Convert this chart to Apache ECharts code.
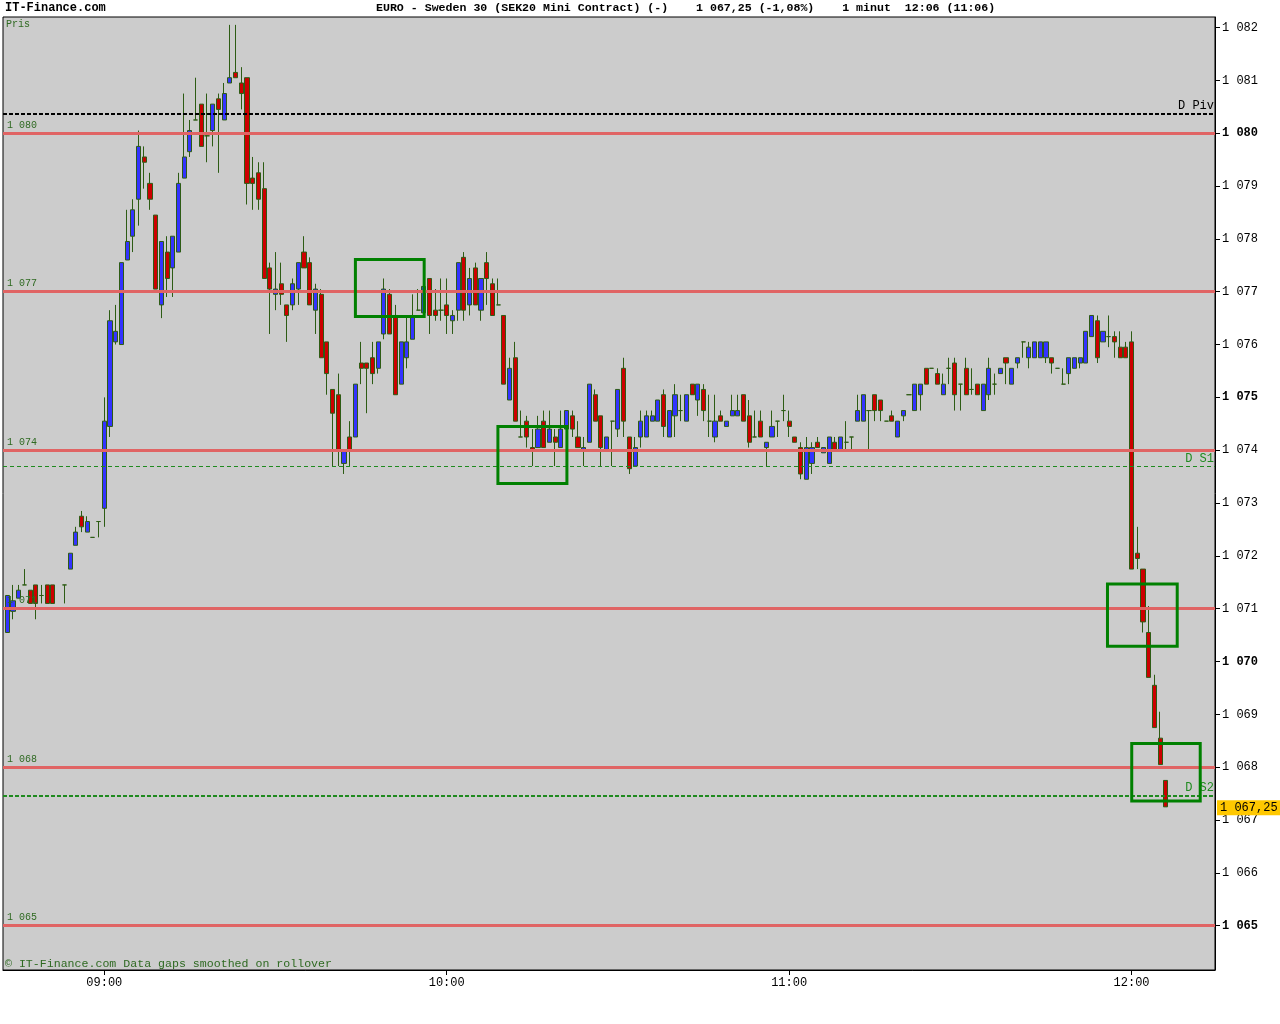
<!DOCTYPE html>
<html><head><meta charset="utf-8">
<script src="https://cdn.jsdelivr.net/npm/echarts@6/dist/echarts.min.js"></script>
<style>html,body{margin:0;padding:0;background:#fff;}#c{width:1280px;height:1024px;}</style>
</head><body><div id="c"></div>
<script>
const times = [
"08:43","08:44","08:45","08:46","08:47","08:48","08:49","08:50","08:51","08:53",
"08:54","08:55","08:56","08:57","08:58","08:59",
"09:00","09:01","09:02","09:03","09:04","09:05","09:06","09:07","09:08","09:09",
"09:10","09:11","09:12","09:13","09:14","09:15","09:16","09:17","09:18","09:19",
"09:20","09:21","09:22","09:23","09:24","09:25","09:26","09:27","09:28","09:29",
"09:30","09:31","09:32","09:33","09:34","09:35","09:36","09:37","09:38","09:39",
"09:40","09:41","09:42","09:43","09:44","09:45","09:46","09:47","09:48","09:49",
"09:50","09:51","09:52","09:53","09:54","09:55","09:56","09:57","09:58","09:59",
"10:00","10:01","10:02","10:03","10:04","10:05","10:06","10:07","10:08","10:09",
"10:10","10:11","10:12","10:13","10:14","10:15","10:16","10:17","10:18","10:19",
"10:20","10:21","10:22","10:23","10:24","10:25","10:26","10:27","10:28","10:29",
"10:30","10:31","10:32","10:33","10:34","10:35","10:36","10:37","10:38","10:39",
"10:40","10:41","10:42","10:43","10:44","10:45","10:46","10:47","10:48","10:49",
"10:50","10:51","10:52","10:53","10:54","10:55","10:56","10:57","10:58","10:59",
"11:00","11:01","11:02","11:03","11:04","11:05","11:06","11:07","11:08","11:09",
"11:10","11:11","11:12","11:13","11:14","11:15","11:16","11:17","11:18","11:19",
"11:20","11:21","11:22","11:23","11:24","11:25","11:26","11:27","11:28","11:29",
"11:30","11:31","11:32","11:33","11:34","11:35","11:36","11:37","11:38","11:39",
"11:40","11:41","11:42","11:43","11:44","11:45","11:46","11:47","11:48","11:49",
"11:50","11:51","11:52","11:53","11:54","11:55","11:56","11:57","11:58","11:59",
"12:00","12:01","12:02","12:03","12:04","12:05","12:06"];

const opens = [
1070.55,1070.95,1071.20,1071.45,1071.35,1071.45,1071.25,1071.45,1071.45,1071.45,
1071.75,1072.20,1072.75,1072.45,1072.35,1072.65,
1072.90,1074.45,1076.05,1076.00,1077.60,1078.05,1078.75,1079.55,1079.05,1078.45,
1076.75,1077.75,1077.45,1077.75,1079.15,1079.65,1080.25,1080.55,1079.95,1080.05,
1080.65,1080.25,1080.95,1081.15,1080.95,1081.05,1079.15,1079.25,1078.95,1077.45,
1076.95,1077.15,1076.75,1076.75,1077.05,1077.75,1077.55,1076.65,1076.95,1076.05,
1075.15,1075.05,1073.75,1074.25,1074.25,1075.65,1075.65,1075.75,1075.55,1076.20,
1076.95,1076.55,1075.25,1075.75,1076.10,1076.65,1076.60,1077.25,1076.65,1076.65,
1076.75,1076.45,1076.65,1077.65,1076.75,1077.45,1076.65,1077.55,1077.15,1076.75,
1076.55,1074.95,1075.75,1074.25,1074.55,1074.05,1074.05,1074.55,1074.15,1074.25,
1074.05,1074.40,1074.65,1074.25,1074.00,1074.15,1075.05,1074.65,1074.00,1074.55,
1074.40,1075.55,1074.25,1073.70,1074.25,1074.25,1074.55,1074.55,1075.05,1074.25,
1074.65,1074.75,1074.55,1075.25,1074.95,1075.15,1074.55,1074.25,1074.65,1074.45,
1074.65,1074.65,1075.05,1074.65,1074.25,1074.55,1074.05,1074.25,1074.55,1074.75,
1074.55,1074.25,1074.05,1073.45,1073.75,1074.15,1073.95,1073.75,1074.15,1074.00,
1074.15,1074.25,1074.55,1074.55,1074.75,1075.05,1074.95,1074.55,1074.65,1074.25,
1074.65,1075.05,1074.75,1075.05,1075.55,1075.55,1075.45,1075.05,1075.55,1075.65,
1075.25,1075.55,1075.15,1075.25,1074.75,1075.05,1075.25,1075.45,1075.75,1075.25,
1075.65,1076.05,1075.75,1075.75,1075.75,1075.75,1075.75,1075.55,1075.25,1075.45,
1075.55,1075.65,1075.65,1076.15,1076.45,1076.05,1076.15,1076.15,1075.95,1075.95,
1076.05,1072.05,1071.75,1070.55,1069.55,1068.55,1067.75];

const closes = [
1071.25,1071.15,1071.35,1071.45,1071.10,1071.10,1071.25,1071.10,1071.10,1071.45,
1072.05,1072.45,1072.55,1072.65,1072.35,1072.65,
1074.55,1076.45,1076.25,1077.55,1077.95,1078.55,1079.75,1079.45,1078.75,1077.05,
1077.95,1077.25,1078.05,1079.05,1079.55,1080.05,1080.25,1079.75,1079.95,1080.55,
1080.45,1080.75,1081.05,1081.05,1080.75,1079.05,1079.05,1078.75,1077.25,1077.05,
1077.05,1076.95,1076.55,1077.15,1077.55,1077.45,1076.75,1077.05,1075.75,1075.45,
1074.70,1074.00,1074.00,1074.00,1075.25,1075.55,1075.55,1075.45,1076.05,1077.05,
1076.20,1075.05,1076.05,1076.05,1076.55,1076.65,1077.10,1076.55,1076.55,1076.65,
1076.55,1076.55,1077.55,1076.65,1077.25,1076.75,1077.25,1077.25,1076.55,1076.75,
1075.25,1075.55,1074.55,1074.25,1074.25,1074.00,1074.40,1074.05,1074.40,1074.15,
1074.40,1074.75,1074.40,1074.05,1074.05,1075.25,1074.55,1074.05,1074.25,1074.55,
1075.15,1074.55,1073.65,1074.05,1074.55,1074.65,1074.65,1074.95,1074.45,1074.75,
1075.05,1074.75,1075.05,1075.05,1075.25,1074.75,1074.55,1074.55,1074.55,1074.55,
1074.75,1074.75,1074.55,1074.15,1074.25,1074.25,1074.15,1074.45,1074.55,1074.75,
1074.45,1074.15,1073.55,1074.05,1074.05,1074.05,1074.05,1074.25,1074.00,1074.25,
1074.15,1074.25,1074.75,1075.05,1074.75,1074.75,1074.75,1074.55,1074.55,1074.55,
1074.75,1075.05,1075.25,1075.25,1075.25,1075.55,1075.25,1075.25,1075.55,1075.05,
1075.25,1075.05,1075.15,1075.05,1075.25,1075.55,1075.25,1075.55,1075.65,1075.55,
1075.75,1076.05,1075.95,1076.05,1076.05,1076.05,1075.65,1075.55,1075.25,1075.75,
1075.75,1075.75,1076.25,1076.55,1075.75,1076.25,1076.15,1076.05,1075.75,1075.75,
1071.75,1071.95,1070.75,1069.70,1068.75,1068.05,1067.25];

const lows = [
1070.55,1070.80,1071.20,1071.45,1071.10,1070.80,1071.10,1071.10,1071.10,1071.10,
1071.75,1072.20,1072.45,1072.45,1072.35,1072.35,
1072.55,1074.25,1076.00,1076.00,1077.60,1077.75,1078.25,1078.95,1078.55,1077.05,
1076.50,1076.90,1076.90,1077.75,1079.15,1079.55,1080.25,1079.75,1079.45,1079.75,
1079.25,1080.25,1080.95,1081.05,1080.45,1078.65,1078.55,1078.55,1077.25,1076.20,
1076.65,1076.75,1076.05,1076.65,1076.75,1077.45,1076.75,1076.20,1075.75,1075.05,
1073.70,1073.70,1073.55,1073.70,1074.25,1075.25,1074.70,1075.25,1075.45,1076.10,
1076.20,1075.05,1075.25,1075.55,1076.10,1076.65,1076.60,1076.20,1076.45,1076.45,
1076.20,1076.20,1076.45,1076.45,1076.55,1076.75,1076.45,1076.75,1076.55,1076.75,
1075.25,1074.95,1074.55,1074.25,1074.05,1073.70,1074.05,1074.05,1074.15,1073.70,
1074.05,1074.25,1074.25,1074.05,1073.70,1074.15,1074.55,1073.70,1074.00,1073.70,
1074.25,1074.25,1073.55,1073.70,1074.05,1074.25,1074.55,1074.55,1074.25,1074.25,
1074.25,1074.55,1074.55,1075.05,1074.65,1074.55,1074.25,1074.15,1074.55,1074.45,
1074.65,1074.65,1074.55,1074.05,1074.25,1074.25,1073.70,1074.25,1074.25,1074.55,
1074.25,1074.15,1073.45,1073.45,1073.55,1074.05,1073.95,1073.75,1074.00,1074.00,
1074.00,1074.00,1074.55,1074.55,1074.00,1074.55,1074.55,1074.55,1074.55,1074.25,
1074.55,1075.05,1074.75,1074.75,1075.25,1075.55,1075.25,1075.05,1075.25,1074.75,
1074.75,1075.05,1075.05,1075.05,1074.75,1074.95,1075.05,1075.45,1075.25,1075.25,
1075.55,1075.75,1075.55,1075.75,1075.75,1075.65,1075.45,1075.55,1075.25,1075.25,
1075.55,1075.55,1075.65,1076.15,1075.65,1076.05,1075.95,1075.75,1075.75,1075.75,
1071.75,1071.75,1070.55,1069.70,1068.75,1068.05,1067.25];

const highs = [
1071.25,1071.45,1071.45,1071.75,1071.35,1071.45,1071.45,1071.45,1071.45,1071.45,
1072.05,1072.55,1072.85,1072.75,1072.35,1072.65,
1075.00,1076.65,1076.75,1077.55,1078.55,1078.75,1080.05,1079.75,1079.25,1078.45,
1077.95,1078.05,1078.05,1079.25,1080.75,1080.25,1081.05,1080.55,1080.75,1080.55,
1080.75,1080.95,1082.05,1082.05,1081.25,1081.05,1079.55,1079.45,1079.45,1077.55,
1077.75,1077.55,1076.75,1077.25,1077.55,1078.05,1077.65,1077.15,1077.05,1076.05,
1075.15,1075.45,1074.00,1074.55,1075.25,1076.05,1075.65,1076.05,1076.05,1077.25,
1077.05,1076.75,1076.05,1076.55,1076.95,1077.05,1077.10,1077.25,1077.05,1077.25,
1077.25,1076.65,1077.55,1077.75,1077.45,1077.55,1077.25,1077.75,1077.25,1077.25,
1076.55,1075.75,1076.05,1074.75,1074.65,1074.40,1074.65,1074.75,1074.75,1074.40,
1074.75,1074.75,1074.75,1074.55,1074.25,1075.25,1075.15,1074.65,1074.25,1074.55,
1075.15,1075.75,1074.25,1074.25,1074.75,1074.75,1074.75,1074.95,1075.15,1074.75,
1075.25,1075.05,1075.05,1075.25,1075.25,1075.25,1075.05,1075.05,1074.75,1074.55,
1075.05,1075.05,1075.05,1074.95,1074.75,1074.75,1074.15,1074.75,1074.55,1075.05,
1074.75,1074.25,1074.15,1074.25,1074.15,1074.25,1074.05,1074.25,1074.25,1074.25,
1074.55,1074.25,1075.05,1075.05,1074.75,1075.05,1074.95,1074.55,1074.75,1074.55,
1074.75,1075.05,1075.25,1075.25,1075.55,1075.55,1075.55,1075.45,1075.75,1075.75,
1075.25,1075.75,1075.55,1075.25,1075.25,1075.75,1075.45,1075.55,1075.75,1075.55,
1075.75,1076.05,1076.05,1076.05,1076.05,1076.05,1075.75,1075.55,1075.55,1075.75,
1075.75,1075.75,1076.25,1076.55,1076.55,1076.25,1076.55,1076.25,1076.25,1076.05,
1076.25,1072.55,1071.75,1071.05,1069.75,1069.05,1067.75];

// horizontal levels
const levelValues = [1080, 1077, 1074, 1071, 1068, 1065];
const levelLabels = ['1 080', '1 077', '1 074', '1 071', '1 068', '1 065'];
const pivotValues = [1080.36, 1073.69, 1067.46];
const pivotLabels = ['D Piv', 'D S1', 'D S2'];
const lastPrice = 1067.25;
const lastPriceLabel = '1 067,25';

// annotation boxes (minutes since midnight, price)
const boxStart = [584.0, 608.97, 715.78, 720.03];
const boxEnd = [596.05, 621.06, 728.0, 732.03];
const boxTop = [1077.61, 1074.45, 1071.47, 1068.45];
const boxBottom = [1076.53, 1073.37, 1070.29, 1067.36];

// axis ticks
const xTickValues = [540, 600, 660, 720];
const yTickValues = [1065,1066,1067,1068,1069,1070,1071,1072,1073,1074,1075,1076,1077,1078,1079,1080,1081,1082];

const toMin = t => { const p = t.split(':'); return +p[0] * 60 + +p[1]; };
const pad = n => (n < 10 ? '0' : '') + n;
const candleData = times.map((t, i) => [toMin(t), opens[i], closes[i], lows[i], highs[i]]);
const boxData = boxStart.map((s, i) => [s, boxTop[i], boxEnd[i], boxBottom[i]]);

const MONO = 'Liberation Mono, DejaVu Sans Mono, monospace';
const WICK = '#2d5c14';
const LBL_GREEN = '#2f6a22';
const DS_GREEN = '#1f8a1f';

const markData = [];
levelValues.forEach((v, i) => markData.push({
  yAxis: v,
  lineStyle: { color: '#e06464', width: 3, type: 'solid' },
  label: { show: true, position: 'insideStartTop', formatter: levelLabels[i], color: LBL_GREEN,
           fontFamily: MONO, fontSize: 10, distance: [4, 3] }
}));
const pivStyles = [
  { color: '#000000', width: 2, type: [4, 2] },
  { color: DS_GREEN, width: 1, type: [4, 3] },
  { color: DS_GREEN, width: 2, type: [4, 2] }
];
const pivColors = ['#000000', DS_GREEN, DS_GREEN];
pivotValues.forEach((v, i) => markData.push({
  yAxis: v,
  lineStyle: pivStyles[i],
  label: { show: true, position: 'insideEndTop', formatter: pivotLabels[i], color: pivColors[i],
           fontFamily: MONO, fontSize: 12, distance: [1, 2] }
}));
markData.push({
  yAxis: lastPrice,
  lineStyle: { color: 'rgba(0,0,0,0)', width: 0 },
  label: { show: true, position: 'end', formatter: lastPriceLabel, color: '#000', opacity: 1,
           backgroundColor: '#ffc800', fontFamily: MONO, fontSize: 12, padding: [2, 3, 1, 3], distance: 2,
           offset: [0, 1] }
});

const chart = echarts.init(document.getElementById('c'), null, { renderer: 'canvas' });
chart.setOption({
  animation: false,
  backgroundColor: '#ffffff',
  grid: { left: 3, right: 65, top: 17, bottom: 54, show: true, backgroundColor: '#cccccc',
          borderColor: '#000', borderWidth: 1, containLabel: false, outerBoundsMode: 'none' },
  xAxis: {
    type: 'value', min: 522.25, max: 734.62, scale: true,
    splitLine: { show: false },
    axisLine: { show: true, lineStyle: { color: '#000', width: 1 } },
    axisTick: { show: true, customValues: xTickValues, length: 5, lineStyle: { color: '#000' } },
    axisLabel: { customValues: xTickValues, margin: 7, color: '#000', fontFamily: MONO, fontSize: 12,
                 formatter: v => pad(Math.floor(v / 60)) + ':' + pad(v % 60) }
  },
  yAxis: {
    type: 'value', position: 'right', min: 1064.162, max: 1082.199, scale: true,
    splitLine: { show: false },
    axisLine: { show: true, lineStyle: { color: '#000', width: 1 } },
    axisTick: { show: true, customValues: yTickValues, length: 5, lineStyle: { color: '#000' } },
    axisLabel: {
      customValues: yTickValues, margin: 7,
      formatter: v => {
        const s = '1 ' + String(v - 1000).padStart(3, '0');
        return v % 5 === 0 ? '{b|' + s + '}' : '{n|' + s + '}';
      },
      rich: {
        b: { fontFamily: MONO, fontSize: 12, fontWeight: 'bold', color: '#000' },
        n: { fontFamily: MONO, fontSize: 12, color: '#000' }
      }
    }
  },
  series: [
    {
      type: 'candlestick',
      data: candleData,
      barWidth: 4.6,
      z: 2,
      itemStyle: { color: '#3333ff', color0: '#cc0000', borderColor: WICK, borderColor0: WICK,
                   borderColorDoji: WICK, borderWidth: 1 },
      markLine: { symbol: ['none', 'none'], silent: true, animation: false, data: markData }
    },
    {
      type: 'custom',
      z: 10,
      silent: true,
      data: boxData,
      encode: { x: [0, 2], y: [1, 3] },
      renderItem: (params, api) => {
        const p1 = api.coord([api.value(0), api.value(1)]);
        const p2 = api.coord([api.value(2), api.value(3)]);
        return { type: 'rect', shape: { x: p1[0], y: p1[1], width: p2[0] - p1[0], height: p2[1] - p1[1] },
                 style: { fill: 'none', stroke: '#008000', lineWidth: 3 } };
      }
    }
  ],
  graphic: [
    { type: 'text', left: 5, top: 2, style: { text: 'IT-Finance.com', font: 'bold 12px ' + MONO, fill: '#000' } },
    { type: 'text', left: 376, top: 2, style: { text: 'EURO - Sweden 30 (SEK20 Mini Contract) (-)    1 067,25 (-1,08%)    1 minut  12:06 (11:06)', font: 'bold 11.6px ' + MONO, fill: '#000' } },
    { type: 'text', left: 6, top: 19, z: 20, style: { text: 'Pris', font: '10px ' + MONO, fill: LBL_GREEN } },
    { type: 'text', left: 5, top: 958, z: 20, style: { text: '\u00a9 IT-Finance.com Data gaps smoothed on rollover', font: '11.6px ' + MONO, fill: LBL_GREEN } }
  ]
});
</script></body></html>
